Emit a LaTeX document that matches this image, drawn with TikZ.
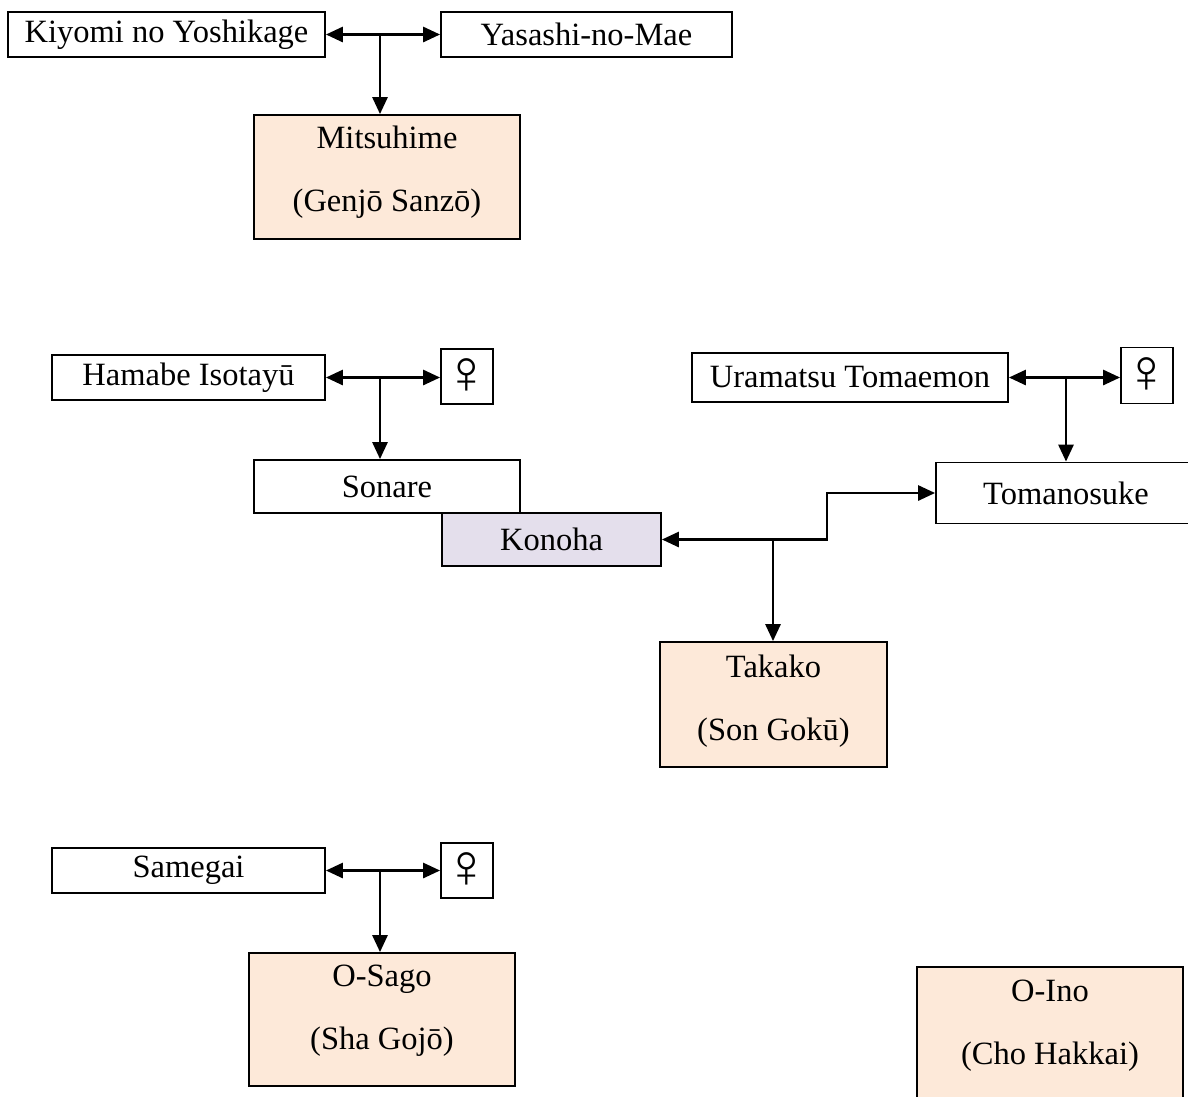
\documentclass[tikz,border=0pt]{standalone}
\usepackage{fontspec}
\setmainfont{Liberation Serif}
\usetikzlibrary{arrows.meta}
\definecolor{peach}{HTML}{FDE9D9}
\definecolor{lav}{HTML}{E4DFEC}
\tikzset{
  pbox/.style={draw=black, line width=1.8pt, fill=white, inner sep=0pt, align=center,
    font=\fontsize{32.5}{63}\selectfont},
  child/.style={pbox, fill=peach},
  ctext/.style={inner sep=0pt, align=center, font=\fontsize{32.5}{63}\selectfont},
  fembox/.style={draw=black, line width=1.8pt, fill=white, inner sep=0pt,
    minimum width=52, minimum height=55},
  femtext/.style={inner sep=0pt, font=\fontsize{62}{62}\selectfont},
  link/.style={line width=2.8pt, -{Triangle[length=17pt,width=15pt]}},
  dlink/.style={line width=2.8pt, {Triangle[length=17pt,width=15pt]}-{Triangle[length=17pt,width=15pt]}}
}
\begin{document}
\begin{tikzpicture}[x=1pt,y=-1pt]
\useasboundingbox (0,0) rectangle (1188,1096);
% group 1
\node[pbox, minimum width=317, minimum height=45] (kiyomi) at (166.5,34.5) {Kiyomi no Yoshikage};
\node[pbox, minimum width=291, minimum height=45] (yasashi) at (586.5,34.5) {Yasashi-no-Mae};
\node[child, minimum width=266, minimum height=124] (mitsu) at (387,177) {};
\node[ctext] (mitsuT) at (387,172) {Mitsuhime\\(Genjō Sanzō)};
\coordinate (j1) at (380,34.5);
\draw[dlink] (kiyomi.east) -- (yasashi.west);
\draw[link] (j1) -- (j1 |- mitsu.north);
% group 2
\node[pbox, minimum width=273, minimum height=45] (hamabe) at (188.5,377.5) {Hamabe Isotayū};
\node[fembox] (fem1) at (467,376.5) {};
\node[femtext] (fem1T) at (467,376.5) {♀};
\node[pbox, minimum width=266, minimum height=53] (sonare) at (387,486.5) {Sonare};
\node[pbox, fill=lav, minimum width=219, minimum height=53] (konoha) at (551.5,539.5) {Konoha};
\coordinate (j2) at (380,377.5);
\draw[dlink] (hamabe.east) -- (fem1.west |- hamabe.east);
\draw[link] (j2) -- (j2 |- sonare.north);
\node[pbox, minimum width=316, minimum height=49] (uramatsu) at (850,377.5) {Uramatsu Tomaemon};
\node[fembox, minimum height=56] (fem2) at (1147,375.5) {};
\node[femtext] (fem2T) at (1147,375.5) {♀};
\node[pbox, minimum width=260, minimum height=61] (tomanosuke) at (1066,493) {Tomanosuke};
\coordinate (j3) at (1066,377.5);
\draw[dlink] (uramatsu.east) -- (fem2.west |- uramatsu.east);
\draw[link] (j3) -- (tomanosuke.north);
\coordinate (bendx) at (827,520);
\draw[dlink] (konoha.east) -- (konoha.east -| bendx) -- (bendx |- tomanosuke.west) -- (tomanosuke.west);
\node[child, minimum width=227, minimum height=125] (takako) at (773.5,704.5) {};
\node[ctext] (takakoT) at (773.5,701) {Takako\\(Son Gokū)};
\coordinate (j4) at (773,539.5);
\draw[link] (j4) -- (j4 |- takako.north);
% group 3
\node[pbox, minimum width=273, minimum height=45] (samegai) at (188.5,870.5) {Samegai};
\node[fembox] (fem3) at (467,870.5) {};
\node[femtext] (fem3T) at (467,870.5) {♀};
\node[child, minimum width=266, minimum height=133] (osago) at (382,1019.5) {};
\node[ctext] (osagoT) at (382,1010.5) {O-Sago\\(Sha Gojō)};
\coordinate (j5) at (380,870.5);
\draw[dlink] (samegai.east) -- (fem3.west);
\draw[link] (j5) -- (j5 |- osago.north);
% O-Ino
\node[child, minimum width=266, minimum height=144] (oino) at (1050,1039) {};
\node[ctext] (oinoT) at (1050,1026) {O-Ino\\(Cho Hakkai)};
\end{tikzpicture}
\end{document}
